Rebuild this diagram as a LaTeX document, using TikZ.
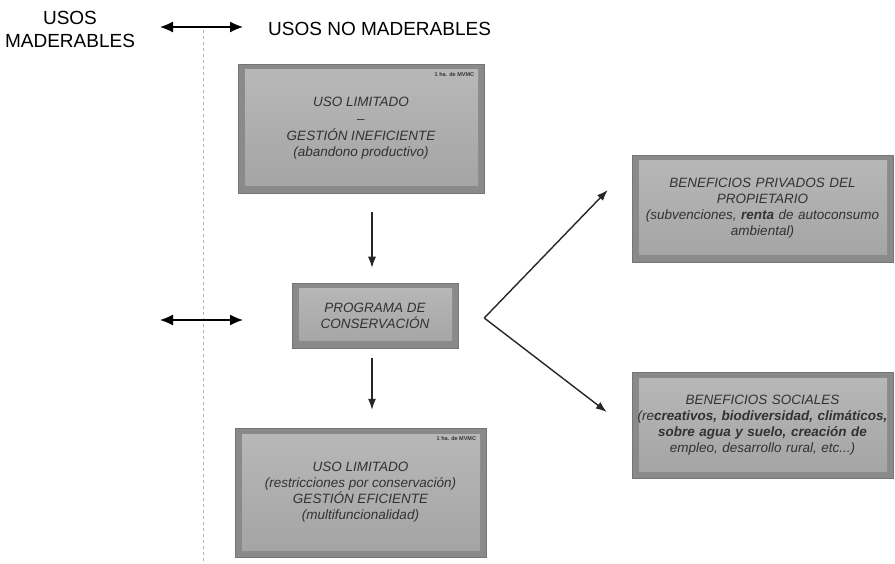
\documentclass[tikz,border=0pt]{standalone}
\usepackage{fontspec}
\setmainfont{Liberation Sans}
\usetikzlibrary{arrows.meta,calc,positioning}
\definecolor{boxedge}{RGB}{138,138,138}
\definecolor{boxface}{RGB}{172,172,172}
\definecolor{inkgray}{RGB}{50,50,50}

\begin{document}
\begin{tikzpicture}[x=1pt, y=-1pt,
      cbox/.style={fill=boxedge, draw=boxedge!85!black, line width=0.5pt, inner sep=2pt, align=center,
        font=\fontsize{13.5}{16}\selectfont\itshape, text=inkgray,
        path picture={\shade[top color=boxface!85!white, bottom color=boxface!95!black]
          ([shift={(7pt,-6pt)}]path picture bounding box.north west)
          rectangle ([shift={(-6pt,7pt)}]path picture bounding box.south east);}},
      tag/.style={font=\fontsize{5.5}{6}\selectfont\bfseries, text=inkgray, inner sep=0pt},
      head/.style={font=\fontsize{19}{23}\selectfont, align=center, inner sep=0pt},
      flow/.style={-{Latex[length=11pt,width=8pt]}, line width=1.2pt, black!85},
      dbl/.style={{Latex[length=13pt,width=11pt]}-{Latex[length=13pt,width=11pt]}, line width=1.3pt},
      divide/.style={gray!60, line width=0.8pt, dash pattern=on 3pt off 3pt}
    ]
      \useasboundingbox (0,0) rectangle (895,564);

      % headings and divider
      \node[head] (mad) at (70,29) {USOS\\MADERABLES};
      \node[head, anchor=west] (nomad) at (268,29) {USOS NO MADERABLES};
      \coordinate (dtop) at (203,30);
      \coordinate (dbot) at (203,564);
      \draw[divide] (dtop) -- (dbot);
      \coordinate (tl) at (160,27);
      \coordinate (tr) at (243,27);
      \draw[dbl] (tl) -- (tr);
      \coordinate (ml) at (160,320);
      \coordinate (mr) at (243,320);
      \draw[dbl] (ml) -- (mr);

      % left column
      \node[cbox, minimum width=246pt, minimum height=129pt] (top) at (361,128.5) {
        USO LIMITADO\\[1pt]
        --\\[1pt]
        GESTIÓN INEFICIENTE\\
        (abandono productivo)
      };
      \node[tag, below left=9pt and 10pt of top.north east, anchor=north east] (toptag) {1 ha. de MVMC};

      \node[cbox, minimum width=166pt, minimum height=65pt] (prog) at (375,315.5) {
        PROGRAMA DE\\
        CONSERVACIÓN
      };

      \node[cbox, minimum width=251pt, minimum height=129pt] (low) at (360.5,492.5) {
        USO LIMITADO\\
        (restricciones por conservación)\\
        GESTIÓN EFICIENTE\\
        (multifuncionalidad)
      };
      \node[tag, below left=9pt and 10pt of low.north east, anchor=north east] (lowtag) {1 ha. de MVMC};

      % right column
      \node[cbox, minimum width=261pt, minimum height=107pt, text width=252pt] (priv) at (762.5,208.5) {
        BENEFICIOS PRIVADOS DEL\\
        PROPIETARIO\\
        (subvenciones, \textbf{renta} de autoconsumo\\
        ambiental)
      };

      \node[cbox, minimum width=261pt, minimum height=106pt, text width=252pt] (soc) at (762.5,425) {
        BENEFICIOS SOCIALES\\
        (re\textbf{creativos, biodiversidad, climáticos,}\\
        \textbf{sobre agua y suelo, creación de}\\
        empleo, desarrollo rural, etc...)
      };

      % connectors
      \draw[flow, shorten <=19pt, shorten >=15pt] ([xshift=11pt]top.south) -- ([xshift=-3pt]prog.north);
      \draw[flow, shorten <=10pt, shorten >=18pt] ([xshift=-3pt]prog.south) -- ([xshift=11.5pt]low.north);
      \coordinate (apex) at ($(prog.east)+(26,2.5)$);
      \draw[flow, line width=1.4pt] (apex) -- ($(priv.west)+(-24,-18.5)$);
      \draw[flow, line width=1.4pt] (apex) -- ($(soc.west)+(-25,-13)$);
    \end{tikzpicture}
\end{document}
